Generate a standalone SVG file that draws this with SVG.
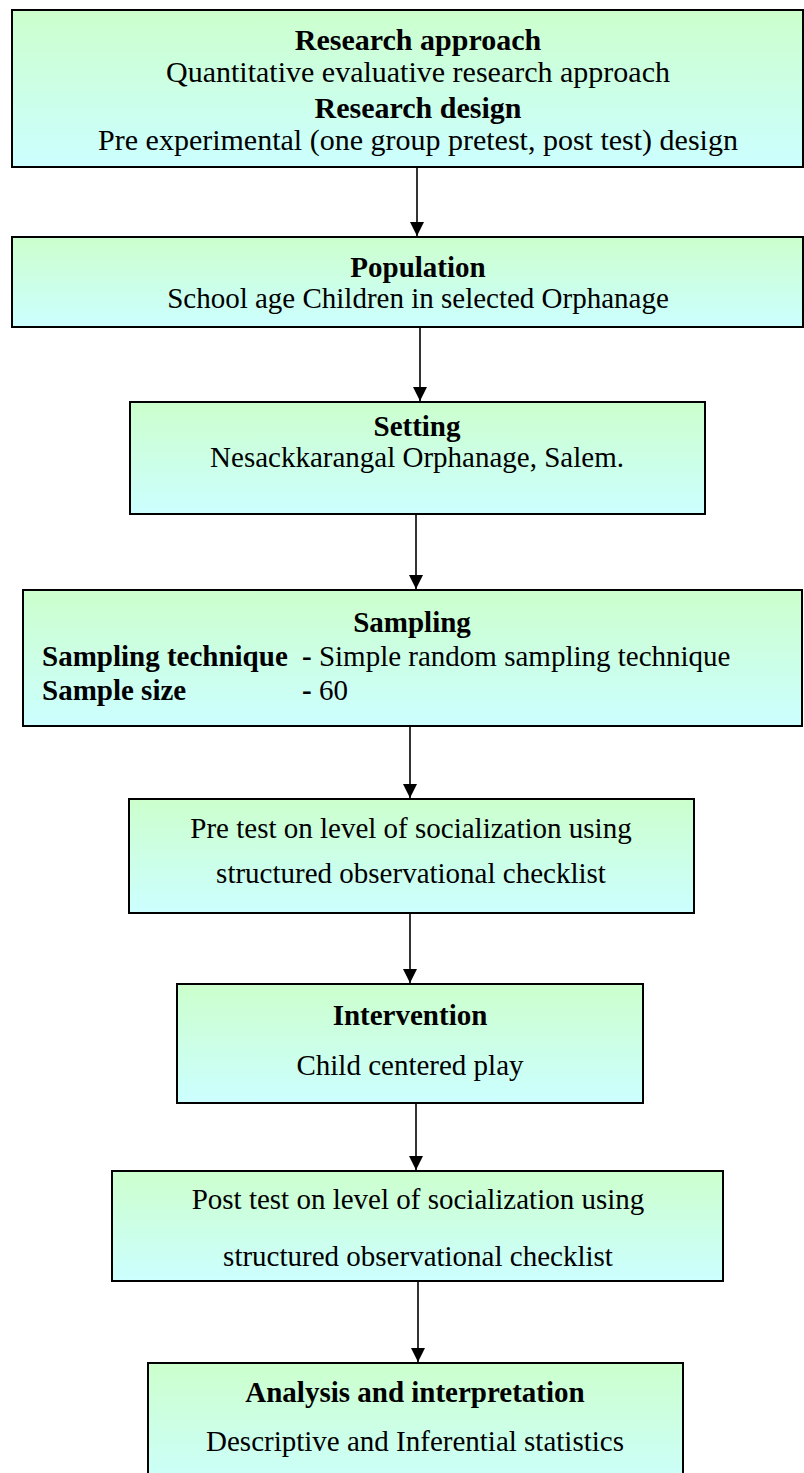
<svg xmlns="http://www.w3.org/2000/svg" width="804" height="1473" viewBox="0 0 804 1473">
  <style>
    .box { fill: url(#boxFill); stroke: #000; stroke-width: 2; }
    .t { font-family: "Liberation Serif", "Times New Roman", serif; font-size: 29px; fill: #000; }
    .big { font-size: 30px; }
    .c { text-anchor: middle; }
    .b { font-weight: bold; }
    .edge { stroke: #000; stroke-width: 1.6; fill: none; marker-end: url(#arrow); }
  </style>
  <defs>
    <linearGradient id="boxFill" x1="0" y1="0" x2="0" y2="1">
      <stop offset="0" stop-color="#ccffcc"/>
      <stop offset="1" stop-color="#ccffff"/>
    </linearGradient>
    <marker id="arrow" markerUnits="userSpaceOnUse" markerWidth="14" markerHeight="16" refX="14" refY="7" orient="auto">
      <path d="M0,0 L14,7 L0,14 Z" fill="#000"/>
    </marker>
  </defs>

  <!-- connectors -->
  <g id="connectors">
    <line class="edge" x1="417" y1="167" x2="417" y2="236"/>
    <line class="edge" x1="420" y1="327" x2="420" y2="401"/>
    <line class="edge" x1="416" y1="514" x2="416" y2="589"/>
    <line class="edge" x1="410" y1="726" x2="410" y2="798"/>
    <line class="edge" x1="410" y1="913" x2="410" y2="983"/>
    <line class="edge" x1="416" y1="1103" x2="416" y2="1170"/>
    <line class="edge" x1="418" y1="1281" x2="418" y2="1362"/>
  </g>

  <g id="research">
    <rect class="box" x="12" y="10" width="791" height="157"/>
    <text class="t big c b" x="418" y="50">Research approach</text>
    <text class="t big c" x="418" y="82">Quantitative evaluative research approach</text>
    <text class="t big c b" x="418" y="118">Research design</text>
    <text class="t big c" x="418" y="150">Pre experimental (one group pretest, post test) design</text>
  </g>

  <g id="population">
    <rect class="box" x="12" y="237" width="791" height="90"/>
    <text class="t c b" x="418" y="277">Population</text>
    <text class="t c" x="418" y="308">School age Children in selected Orphanage</text>
  </g>

  <g id="setting">
    <rect class="box" x="130" y="402" width="575" height="112"/>
    <text class="t c b" x="417" y="436">Setting</text>
    <text class="t c" x="417" y="467">Nesackkarangal Orphanage, Salem.</text>
  </g>

  <g id="sampling">
    <rect class="box" x="23" y="590" width="779" height="136"/>
    <text class="t c b" x="412" y="632">Sampling</text>
    <text class="t b" x="42" y="666">Sampling technique</text>
    <text class="t" x="302" y="666"><tspan class="b">-</tspan> Simple random sampling technique</text>
    <text class="t b" x="42" y="700">Sample size</text>
    <text class="t" x="302" y="700"><tspan class="b">-</tspan> 60</text>
  </g>

  <g id="pretest">
    <rect class="box" x="129" y="799" width="565" height="114"/>
    <text class="t c" x="411" y="838">Pre test on level of socialization using</text>
    <text class="t c" x="411" y="883">structured observational checklist</text>
  </g>

  <g id="intervention">
    <rect class="box" x="177" y="984" width="466" height="119"/>
    <text class="t c b" x="410" y="1025">Intervention</text>
    <text class="t c" x="410" y="1075">Child centered play</text>
  </g>

  <g id="posttest">
    <rect class="box" x="112" y="1171" width="611" height="110"/>
    <text class="t c" x="418" y="1209">Post test on level of socialization using</text>
    <text class="t c" x="418" y="1266">structured observational checklist</text>
  </g>

  <g id="analysis">
    <rect class="box" x="148" y="1363" width="535" height="130"/>
    <text class="t c b" x="415" y="1402">Analysis and interpretation</text>
    <text class="t c" x="415" y="1451">Descriptive and Inferential statistics</text>
  </g>
</svg>
